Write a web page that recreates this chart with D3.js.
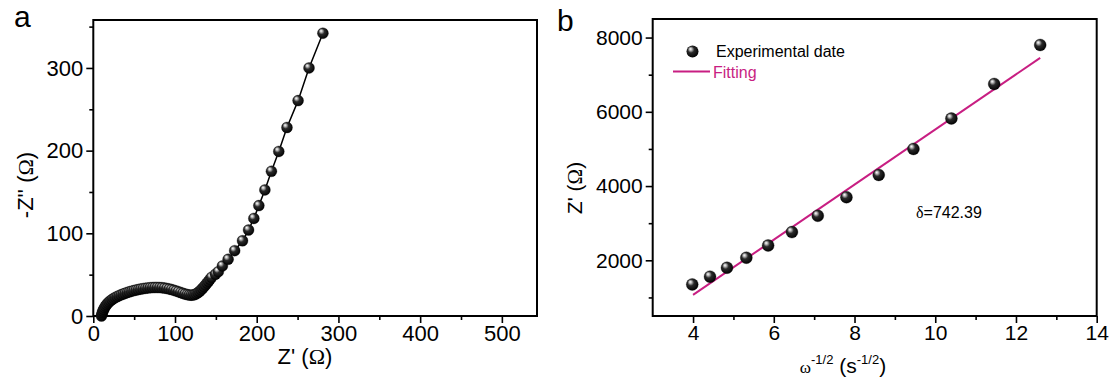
<!DOCTYPE html>
<html><head><meta charset="utf-8">
<script src="https://cdn.jsdelivr.net/npm/d3@7"></script>
<style>
body{margin:0;background:#fff;}
svg{display:block;font-family:"Liberation Sans",Arial,sans-serif;}
</style></head>
<body><svg id="c" width="1113" height="380"></svg>
<script>
// Panel a: Nyquist plot (Z', -Z'')
const nyqZre = [10,10.5,11,11.8,12.7,13.8,15,16.3,17.8,19.4,21.1,23,25,27.1,29.3,31.6,34,36.5,39,41.6,44.2,46.9,49.6,52.4,55.2,58,60.9,63.8,66.7,69.6,72.5,75.4,78.3,81.2,84.1,87,89.9,92.8,95.6,98.4,101.2,104,106.8,109.5,112.2,114.8,117.3,119.7,122,124.2,126.3,128.3,130.2,132,133.8,135.6,137.4,139.2,141,142.8,144.7,149.5,153,158,165,173,182.6,190,196.5,202.6,210,218,227,237,250.6,264,281];
const nyqZim = [0,2,4,6,8,10,12,13.8,15.5,17,18.5,19.9,21.2,22.4,23.5,24.6,25.6,26.6,27.5,28.4,29.2,30,30.7,31.4,32,32.6,33.1,33.5,33.9,34.2,34.4,34.5,34.5,34.4,34.2,33.8,33.3,32.7,32,31.2,30.3,29.4,28.4,27.5,26.6,25.9,25.4,25.2,25.4,26,27,28.3,29.9,31.6,33.5,35.5,37.6,39.8,42,44.3,46.8,50.5,53.6,60.5,68.6,79,91,104,118,133.5,152.5,175,199,228,260.5,300,342];
const aXTicks = [0,100,200,300,400,500];
const aXMinor = [50,150,250,350,450];
const aYTicks = [0,100,200,300];
const aYMinor = [50,150,250,350];

// Panel b: Z' vs omega^-1/2
const wInv = [3.98,4.42,4.84,5.32,5.86,6.45,7.09,7.8,8.6,9.46,10.4,11.46,12.6];
const zRe  = [1350,1560,1800,2070,2400,2760,3200,3700,4300,5000,5820,6750,7800];
const fitX = [4,12.6];
const fitSlope = 742.39, fitIntercept = -1900;
const bXTicks = [4,6,8,10,12,14];
const bXMinor = [5,7,9,11,13];
const bYTicks = [2000,4000,6000,8000];
const bYMinor = [1000,3000,5000,7000];

const svg = d3.select("#c");
const defs = svg.append("defs");
const g = defs.append("radialGradient").attr("id","ball").attr("cx","45%").attr("cy","42%").attr("r","60%").attr("fx","32%").attr("fy","28%");
g.append("stop").attr("offset","0%").attr("stop-color","#ffffff");
g.append("stop").attr("offset","18%").attr("stop-color","#bbbbbb");
g.append("stop").attr("offset","45%").attr("stop-color","#2a2a2a");
g.append("stop").attr("offset","100%").attr("stop-color","#000000");

function frame(x, y, x0, x1, y0, y1, maj, majY, minX, minY, fs){
  const gg = svg.append("g");
  gg.append("rect").attr("x",x0).attr("y",y1).attr("width",x1-x0).attr("height",y0-y1)
    .attr("fill","none").attr("stroke","#000").attr("stroke-width",2);
  const ax = d3.axisBottom(x).tickValues(maj).tickSize(7).tickSizeOuter(0).tickPadding(2).tickFormat(d3.format("d"));
  const axg = gg.append("g").attr("transform",`translate(0,${y0})`).call(ax);
  const axm = gg.append("g").attr("transform",`translate(0,${y0})`).call(d3.axisBottom(x).tickValues(minX).tickSize(4).tickSizeOuter(0).tickFormat(""));
  const ay = d3.axisLeft(y).tickValues(majY).tickSize(7).tickSizeOuter(0).tickPadding(3).tickFormat(d3.format("d"));
  const ayg = gg.append("g").attr("transform",`translate(${x0},0)`).call(ay);
  const aym = gg.append("g").attr("transform",`translate(${x0},0)`).call(d3.axisLeft(y).tickValues(minY).tickSize(4).tickSizeOuter(0).tickFormat(""));
  [axg,axm,ayg,aym].forEach(a=>{
    a.select(".domain").remove();
    a.selectAll("line").attr("stroke","#000").attr("stroke-width",1.6);
    a.selectAll("text").attr("fill","#000").style("font-size",fs+"px").style("font-family","'Liberation Sans',Arial,sans-serif");
  });
}

// ---- Panel a
const ax0=93.3, ax1=537, ay0=316, ay1=20;
const xa = d3.scaleLinear().domain([0,543]).range([ax0,ax1]);
const ya = d3.scaleLinear().domain([0,358]).range([ay0,ay1]);
frame(xa, ya, ax0, ax1, ay0, ay1, aXTicks, aYTicks, aXMinor, aYMinor, 22);
const ptsA = nyqZre.map((v,i)=>[v,nyqZim[i]]);
svg.append("path").datum(ptsA).attr("fill","none").attr("stroke","#000").attr("stroke-width",1.5)
  .attr("d", d3.line().x(d=>xa(d[0])).y(d=>ya(d[1])));
svg.append("g").selectAll("circle").data(ptsA).join("circle")
  .attr("cx",d=>xa(d[0])).attr("cy",d=>ya(d[1])).attr("r",5.5)
  .attr("fill","url(#ball)").attr("stroke","#000").attr("stroke-width",0.3);
svg.append("text").attr("x",14).attr("y",27).style("font-size","30px").text("a");
svg.append("text").attr("x",305).attr("y",364).attr("text-anchor","middle").style("font-size","22px")
  .html("Z' (<tspan font-family='Liberation Serif,Times New Roman,serif'>Ω</tspan>)");
svg.append("text").attr("transform","translate(33,185) rotate(-90)").attr("text-anchor","middle").style("font-size","22px")
  .html("-Z'' (<tspan font-family='Liberation Serif,Times New Roman,serif'>Ω</tspan>)");

// ---- Panel b
const bx0=652.7, bx1=1096.7, by0=316, by1=19;
const xb = d3.scaleLinear().domain([3,14]).range([bx0,bx1]);
const yb = d3.scaleLinear().domain([500,8500]).range([by0,by1]);
frame(xb, yb, bx0, bx1, by0, by1, bXTicks, bYTicks, bXMinor, bYMinor, 21);
const magenta = "#c81e82";
svg.append("path").datum(fitX).attr("fill","none").attr("stroke",magenta).attr("stroke-width",2)
  .attr("d", d3.line().x(d=>xb(d)).y(d=>yb(fitSlope*d+fitIntercept)));
const ptsB = wInv.map((v,i)=>[v,zRe[i]]);
svg.append("g").selectAll("circle").data(ptsB).join("circle")
  .attr("cx",d=>xb(d[0])).attr("cy",d=>yb(d[1])).attr("r",6)
  .attr("fill","url(#ball)").attr("stroke","#000").attr("stroke-width",0.3);
svg.append("text").attr("x",557).attr("y",31).style("font-size","30px").text("b");
// legend
svg.append("circle").attr("cx",692.5).attr("cy",51.5).attr("r",6).attr("fill","url(#ball)");
svg.append("text").attr("x",716).attr("y",57).style("font-size","16px").text("Experimental date");
svg.append("line").attr("x1",673).attr("x2",710).attr("y1",71.5).attr("y2",71.5).attr("stroke",magenta).attr("stroke-width",2);
svg.append("text").attr("x",713).attr("y",78).style("font-size","16px").attr("fill",magenta).text("Fitting");
svg.append("text").attr("x",916).attr("y",218).style("font-size","16px")
  .html("<tspan font-family='Liberation Serif,Times New Roman,serif'>δ</tspan>=742.39");
// axis titles
const xt = svg.append("text").attr("x",843).attr("y",373).attr("text-anchor","middle").style("font-size","21px");
xt.append("tspan").attr("font-family","Liberation Serif,Times New Roman,serif").style("font-size","17px").text("ω");
xt.append("tspan").attr("dy",-9).style("font-size","13px").text("-1/2");
xt.append("tspan").attr("dy",9).text(" (s");
xt.append("tspan").attr("dy",-9).style("font-size","13px").text("-1/2");
xt.append("tspan").attr("dy",9).text(")");
svg.append("text").attr("transform","translate(582,188) rotate(-90)").attr("text-anchor","middle").style("font-size","21px")
  .html("Z' (<tspan font-family='Liberation Serif,Times New Roman,serif'>Ω</tspan>)");
</script></body></html>
